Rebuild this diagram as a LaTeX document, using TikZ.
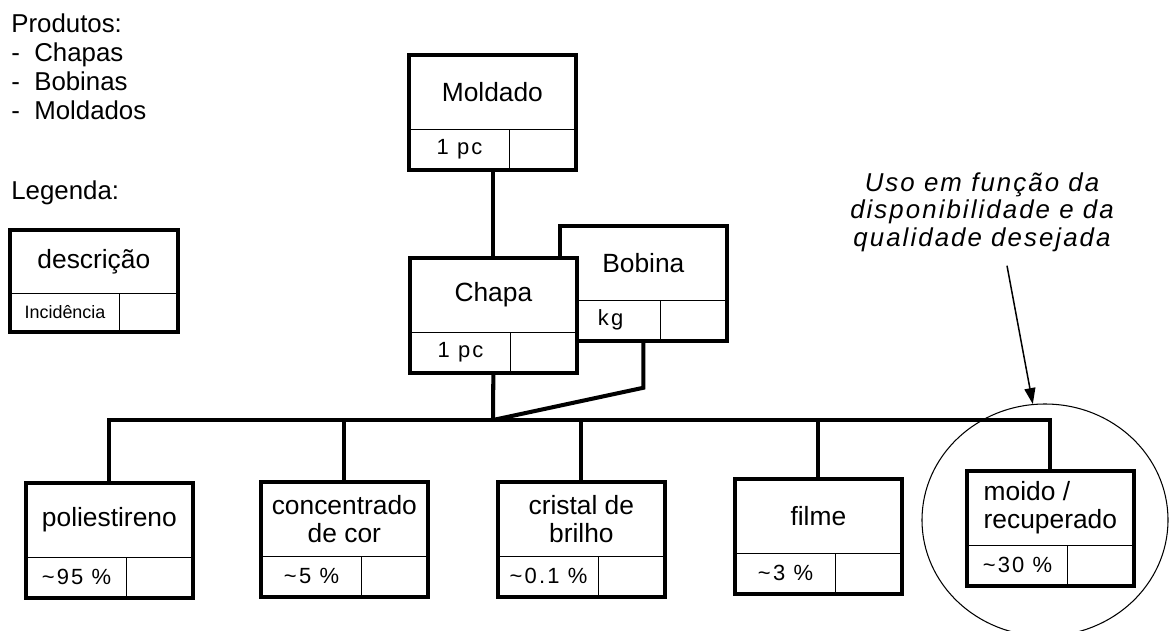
\documentclass[tikz,border=0pt]{standalone}
\usepackage{fontspec}
\setmainfont{Liberation Sans}
\newfontfamily\notesans[LetterSpace=8]{Liberation Sans}
\newfontfamily\cellsans[LetterSpace=10]{Liberation Sans}
\usetikzlibrary{arrows.meta,shapes.geometric}

\begin{document}
\begin{tikzpicture}[
  caption/.style={anchor=north west, align=left, inner sep=0pt, font=\fontsize{14.7}{16.6}\selectfont},
  upper/.style={minimum width=3.32cm, minimum height=1.46cm, inner sep=0pt, align=center, fill=white, font=\fontsize{15}{15.9}\selectfont},
  qty/.style={draw, line width=0.6pt, fill=white, minimum width=2cm, minimum height=0.8cm, inner sep=0pt, font=\cellsans\fontsize{12.5}{13}\selectfont},
  rest/.style={qty, minimum width=1.32cm},
  frame/.style={line width=2.5pt},
  link/.style={line width=2.3pt, line join=miter},
  note/.style={font=\notesans\itshape\fontsize{14.7}{15.6}\selectfont, align=center},
  pointer/.style={-{Triangle[length=3.2mm, width=2.2mm]}, line width=0.85pt},
]
\useasboundingbox (0,0) rectangle (23.4,12.6);

% products and legend
\node[caption] (prod) at (0.22, 12.34) {Produtos:\\-~~Chapas\\-~~Bobinas\\-~~Moldados};
\node[caption] (legtitle) at (0.22, 9.0) {Legenda:};
\node[upper, anchor=north west, minimum width=3.34cm, minimum height=1.24cm] (leg) at (0.20, 8.00) {descrição};
\node[qty, anchor=north west, minimum width=2.18cm, minimum height=0.76cm, font=\fontsize{10.2}{11}\selectfont] (leg-q) at (leg.south west) {Incidência};
\node[rest, anchor=north east, minimum width=1.16cm, minimum height=0.76cm] (leg-r) at (leg.south east) {};

% Bobina sits behind Chapa
\node[upper, anchor=north west] (bob) at (11.20, 8.08) {Bobina};
\node[qty, anchor=north west] (bob-q) at (bob.south west) {kg};
\node[rest, anchor=north east] (bob-r) at (bob.south east) {};
\draw[frame] (bob.north west) rectangle (bob-r.south east);

\node[upper, anchor=north west] (mol) at (8.18, 11.50) {Moldado};
\node[qty, anchor=north west] (mol-q) at (mol.south west) {1 pc};
\node[rest, anchor=north east] (mol-r) at (mol.south east) {};

\fill[white] (8.20, 7.44) rectangle ++(3.32, -2.26);
\node[upper, anchor=north west] (cha) at (8.20, 7.44) {Chapa};
\node[qty, anchor=north west] (cha-q) at (cha.south west) {1 pc};
\node[rest, anchor=north east] (cha-r) at (cha.south east) {};

% raw materials
\node[upper, anchor=north west] (pol) at (0.52, 2.94) {poliestireno};
\node[qty, anchor=north west] (pol-q) at (pol.south west) {\textasciitilde95 \%};
\node[rest, anchor=north east] (pol-r) at (pol.south east) {};

\node[upper, anchor=north west] (con) at (5.22, 2.96) {concentrado\\de cor};
\node[qty, anchor=north west] (con-q) at (con.south west) {\textasciitilde5 \%};
\node[rest, anchor=north east] (con-r) at (con.south east) {};

\node[upper, anchor=north west] (cri) at (9.96, 2.96) {cristal de\\brilho};
\node[qty, anchor=north west] (cri-q) at (cri.south west) {\textasciitilde0.1 \%};
\node[rest, anchor=north east] (cri-r) at (cri.south east) {};

\node[upper, anchor=north west] (fil) at (14.70, 3.02) {filme};
\node[qty, anchor=north west] (fil-q) at (fil.south west) {\textasciitilde3 \%};
\node[rest, anchor=north east] (fil-r) at (fil.south east) {};

\node[upper, anchor=north west, align=left] (moi) at (19.34, 3.18) {moido /\\recuperado};
\node[qty, anchor=north west] (moi-q) at (moi.south west) {\textasciitilde30 \%};
\node[rest, anchor=north east] (moi-r) at (moi.south east) {};

\foreach \b in {leg,mol,cha,pol,con,cri,fil,moi}
  \draw[frame] (\b.north west) rectangle (\b-r.south east);

% tree
\coordinate (hub) at (9.86, 4.20);
\draw[link] (cha.north |- mol-q.south) -- (cha.north);
\draw[link] (cha.south |- cha-q.south) -- (hub);
\draw[link] (bob.south |- bob-q.south) -- ++(0,-0.94) -- (hub);
\draw[link] (pol.north) |- (hub) -| (moi.north);
\foreach \b in {con,cri,fil}
  \draw[link] (\b.north) -- (\b.north |- hub);

% remark on recycled material
\node[ellipse, draw, line width=0.6pt, minimum width=4.92cm, minimum height=4.64cm] (pick) at (20.90, 2.20) {};
\node[note] (usenote) at (19.64, 8.36) {Uso em função da\\disponibilidade e da\\qualidade desejada};
\draw[pointer] ([xshift=0.5cm, yshift=-0.16cm]usenote.south) -- (pick.96);
\end{tikzpicture}
\end{document}
